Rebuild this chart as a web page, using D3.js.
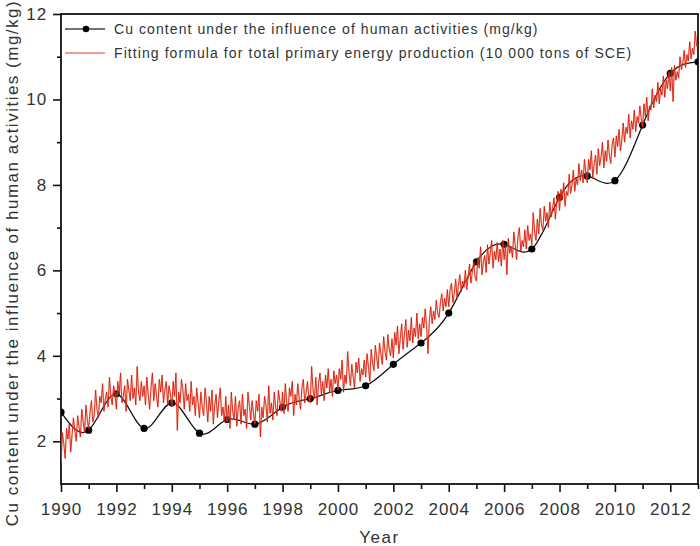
<!DOCTYPE html>
<html>
<head>
<meta charset="utf-8">
<script src="https://cdn.jsdelivr.net/npm/d3@7"></script>
<style>
  body { margin: 0; background: #fff; }
  text { font-family: "Liberation Sans", Arial, sans-serif; fill: #333; }
</style>
</head>
<body>
<svg id="chart"></svg>
<script>
// Cu content under the influence of human activities (mg/kg), one per year
const cuYears = d3.range(1990, 2014);
const cuValues = [2.68, 2.26, 3.11, 2.30, 2.90, 2.19, 2.51, 2.40, 2.80, 3.00, 3.19, 3.30,
                  3.80, 4.30, 5.00, 6.20, 6.61, 6.50, 7.71, 8.21, 8.10, 9.40, 10.61, 10.88];

// fitting formula for total primary energy production, 20 readings per year from 1990.0
const fitStart = 1990;
const fitStep = 0.05;
const fitValues = [
  // 1990
  1.50, 2.20, 1.95, 1.60, 2.30, 2.05, 2.40, 1.75, 2.15, 2.55, 2.25, 2.00, 2.60, 2.35, 2.10, 2.75, 2.45, 2.20, 2.85, 2.50,
  // 1991
  2.30, 2.70, 2.95, 2.45, 2.60, 3.20, 2.75, 2.55, 3.05, 2.90, 3.35, 2.70, 3.00, 3.15, 2.80, 3.50, 3.05, 2.85, 3.30, 3.10,
  // 1992
  2.75, 3.40, 3.10, 3.60, 2.90, 3.05, 3.30, 2.70, 3.45, 3.20, 2.95, 3.55, 3.00, 3.25, 2.85, 3.75, 3.15, 2.95, 3.40, 3.05,
  // 1993
  3.30, 2.85, 3.50, 3.10, 2.75, 3.25, 3.60, 2.95, 3.35, 3.05, 2.80, 3.45, 3.15, 3.55, 2.90, 3.20, 3.40, 2.85, 3.30, 3.10,
  // 1994
  2.80, 3.40, 3.05, 3.60, 2.25, 3.15, 2.90, 3.45, 3.20, 2.75, 3.35, 2.95, 3.10, 2.70, 3.40, 2.85, 3.05, 2.60, 3.25, 2.90,
  // 1995
  2.55, 3.15, 2.80, 2.60, 3.25, 2.95, 2.45, 3.05, 2.70, 3.20, 2.40, 2.85, 3.10, 2.55, 2.95, 3.25, 2.60, 2.80, 2.45, 3.05,
  // 1996
  2.45, 2.85, 2.30, 3.15, 2.70, 2.50, 3.05, 2.35, 2.80, 2.95, 2.40, 3.10, 2.60, 2.75, 2.30, 3.15, 2.85, 2.50, 2.95, 2.65,
  // 1997
  2.40, 2.95, 2.70, 3.10, 2.10, 2.80, 2.55, 3.05, 2.85, 2.45, 3.30, 2.65, 2.90, 2.50, 3.15, 2.80, 2.60, 3.20, 2.95, 2.70,
  // 1998
  3.15, 2.65, 3.35, 2.90, 2.70, 3.25, 3.05, 3.40, 2.60, 3.10, 2.85, 3.35, 3.00, 2.75, 3.25, 3.45, 2.90, 3.15, 3.40, 3.00,
  // 1999
  2.90, 3.75, 3.20, 3.00, 3.50, 2.85, 3.35, 3.60, 3.10, 3.40, 2.95, 3.55, 3.25, 3.70, 3.15, 3.45, 3.05, 3.65, 3.35, 3.55,
  // 2000
  3.20, 3.70, 3.45, 3.90, 3.15, 3.55, 3.35, 4.10, 3.60, 3.30, 3.80, 3.50, 3.25, 3.85, 3.60, 3.95, 3.40, 3.70, 3.55, 3.90,
  // 2001
  3.50, 4.05, 3.75, 3.40, 4.15, 3.85, 3.65, 4.25, 3.95, 3.70, 4.30, 4.05, 3.80, 4.45, 4.10, 3.90, 4.50, 4.15, 4.00, 4.40,
  // 2002
  3.95, 4.55, 4.25, 4.70, 4.05, 4.40, 4.75, 4.15, 4.50, 4.85, 4.20, 4.60, 4.35, 4.90, 4.30, 4.65, 4.45, 5.00, 4.40, 4.75,
  // 2003
  4.45, 4.90, 4.65, 5.10, 4.70, 4.05, 4.85, 5.15, 4.75, 5.05, 4.85, 5.30, 5.00, 4.90, 5.25, 5.45, 5.05, 5.35, 5.15, 5.55,
  // 2004
  5.15, 5.55, 5.70, 5.25, 5.45, 5.80, 5.35, 5.65, 5.90, 5.50, 5.75, 5.60, 6.00, 5.55, 5.85, 6.15, 5.70, 5.95, 6.20, 5.85,
  // 2005
  5.75, 6.30, 6.05, 6.55, 5.90, 6.20, 6.35, 5.95, 6.60, 6.15, 6.40, 6.70, 6.05, 6.45, 6.25, 6.65, 6.20, 6.50, 6.10, 6.70,
  // 2006
  6.25, 6.60, 5.90, 6.75, 6.40, 6.55, 6.30, 6.90, 6.60, 6.25, 6.80, 7.00, 6.45, 6.70, 6.55, 6.95, 6.50, 7.05, 6.70, 6.85,
  // 2007
  6.60, 7.35, 6.90, 6.70, 7.20, 6.85, 7.45, 7.05, 6.95, 7.50, 7.15, 7.35, 7.00, 7.60, 7.25, 7.45, 7.70, 7.20, 7.60, 7.85,
  // 2008
  7.40, 7.90, 7.65, 8.05, 7.50, 7.85, 7.75, 8.25, 7.80, 8.00, 8.35, 7.85, 8.15, 8.00, 8.50, 8.10, 8.35, 8.05, 8.60, 8.30,
  // 2009
  8.05, 8.60, 8.35, 8.80, 8.15, 8.50, 8.70, 8.25, 8.85, 8.45, 8.65, 9.00, 8.40, 8.80, 8.55, 9.05, 8.70, 8.50, 8.95, 9.10,
  // 2010
  8.65, 9.15, 8.90, 9.30, 8.80, 9.05, 9.45, 9.00, 9.35, 9.20, 9.65, 9.10, 9.50, 9.30, 9.75, 9.25, 9.60, 9.45, 9.85, 9.55,
  // 2011
  9.35, 9.90, 9.60, 10.05, 9.50, 9.85, 9.75, 10.25, 9.80, 10.10, 9.95, 10.40, 9.90, 10.25, 10.10, 10.55, 10.05, 10.45, 10.25, 10.65,
  // 2012
  10.20, 10.75, 9.95, 10.80, 10.45, 10.65, 10.50, 11.00, 10.70, 10.85, 11.15, 10.75, 11.05, 10.90, 11.35, 10.95, 11.20, 11.05, 11.60, 11.25,
  // 2013
  11.30
];

const xMajor = d3.range(1990, 2013, 2);
const xMinor = d3.range(1991, 2014, 2);
const yMajor = [2, 4, 6, 8, 10, 12];
const yMinor = [3, 5, 7, 9, 11];

const legendLabels = [
  "Cu content under the influence of human activities (mg/kg)",
  "Fitting formula for total primary energy production (10 000 tons of SCE)"
];
const xTitle = "Year";
const yTitle = "Cu content under the influence of human activities (mg/kg)";

const width = 700;
const height = 546;
const margin = { left: 61, right: 2, top: 14, bottom: 62 };
const plotW = width - margin.left - margin.right;
const plotH = height - margin.top - margin.bottom;

const svg = d3.select("#chart")
    .attr("width", width)
    .attr("height", height);

const g = svg.append("g")
    .attr("transform", "translate(" + margin.left + "," + margin.top + ")");

const xScale = d3.scaleLinear().domain([1990, 2013]).range([0, plotW]);
const yScale = d3.scaleLinear().domain([1, 12]).range([plotH, 0]);

// clip so the curves stay inside the frame
g.append("clipPath").attr("id", "clip")
  .append("rect").attr("width", plotW).attr("height", plotH);

// axes
g.append("g")
    .attr("transform", "translate(0," + plotH + ")")
    .call(d3.axisBottom(xScale).tickValues(xMajor).tickFormat(d3.format("d"))
        .tickSize(8).tickPadding(11));
g.append("g")
    .attr("transform", "translate(0," + plotH + ")")
    .call(d3.axisBottom(xScale).tickValues(xMinor).tickFormat("").tickSize(5));

g.append("g")
    .call(d3.axisLeft(yScale).tickValues(yMajor).tickSize(8).tickPadding(6));
g.append("g")
    .call(d3.axisLeft(yScale).tickValues(yMinor).tickFormat("").tickSize(4));

g.selectAll(".domain").remove();
g.selectAll(".tick line").attr("stroke", "#111").attr("stroke-width", 1.6);
g.selectAll(".tick text")
    .style("font-size", "17px")
    .style("letter-spacing", "0.9px")
    .attr("fill", "#333");

// frame
g.append("rect")
    .attr("width", plotW)
    .attr("height", plotH)
    .attr("fill", "none")
    .attr("stroke", "#111")
    .attr("stroke-width", 1.8);

const plot = g.append("g").attr("clip-path", "url(#clip)");

// black spline through the yearly Cu values
const cuLine = d3.line()
    .x((d, i) => xScale(cuYears[i]))
    .y(d => yScale(d))
    .curve(d3.curveNatural);

plot.append("path")
    .datum(cuValues)
    .attr("fill", "none")
    .attr("stroke", "#111")
    .attr("stroke-width", 1.3)
    .attr("d", cuLine);

plot.append("g").selectAll("circle")
    .data(cuValues)
    .join("circle")
    .attr("cx", (d, i) => xScale(cuYears[i]))
    .attr("cy", d => yScale(d))
    .attr("r", 3.6)
    .attr("fill", "#000");

// red fitted series
const fitLine = d3.line()
    .x((d, i) => xScale(fitStart + i * fitStep))
    .y(d => yScale(d));

plot.append("path")
    .datum(fitValues)
    .attr("fill", "none")
    .attr("stroke", "#e0a070")
    .attr("stroke-width", 1.5)
    .attr("stroke-opacity", 0.55)
    .attr("d", fitLine);

plot.append("path")
    .datum(fitValues)
    .attr("fill", "none")
    .attr("stroke", "#e00800")
    .attr("stroke-width", 0.8)
    .attr("d", fitLine);

// legend
const legend = g.append("g").attr("transform", "translate(4,15)");
legend.append("line")
    .attr("x1", 0).attr("x2", 40).attr("y1", 0).attr("y2", 0)
    .attr("stroke", "#444").attr("stroke-width", 1.5);
legend.append("circle")
    .attr("cx", 21).attr("cy", 0).attr("r", 3.3).attr("fill", "#000");
legend.append("line")
    .attr("x1", 0).attr("x2", 40).attr("y1", 24).attr("y2", 24)
    .attr("stroke", "#e03a2a").attr("stroke-width", 1);
legend.selectAll("text")
    .data(legendLabels)
    .join("text")
    .attr("x", 49)
    .attr("y", (d, i) => i * 24)
    .attr("dy", "0.35em")
    .style("font-size", "14px")
    .style("letter-spacing", "1.08px")
    .text(d => d);

// axis titles
svg.append("text")
    .attr("x", margin.left + plotW / 2)
    .attr("y", 543)
    .attr("text-anchor", "middle")
    .style("font-size", "17px")
    .style("letter-spacing", "1.5px")
    .text(xTitle);

svg.append("text")
    .attr("transform", "translate(18,263) rotate(-90)")
    .attr("text-anchor", "middle")
    .style("font-size", "17px")
    .style("letter-spacing", "1.5px")
    .text(yTitle);
</script>
</body>
</html>
